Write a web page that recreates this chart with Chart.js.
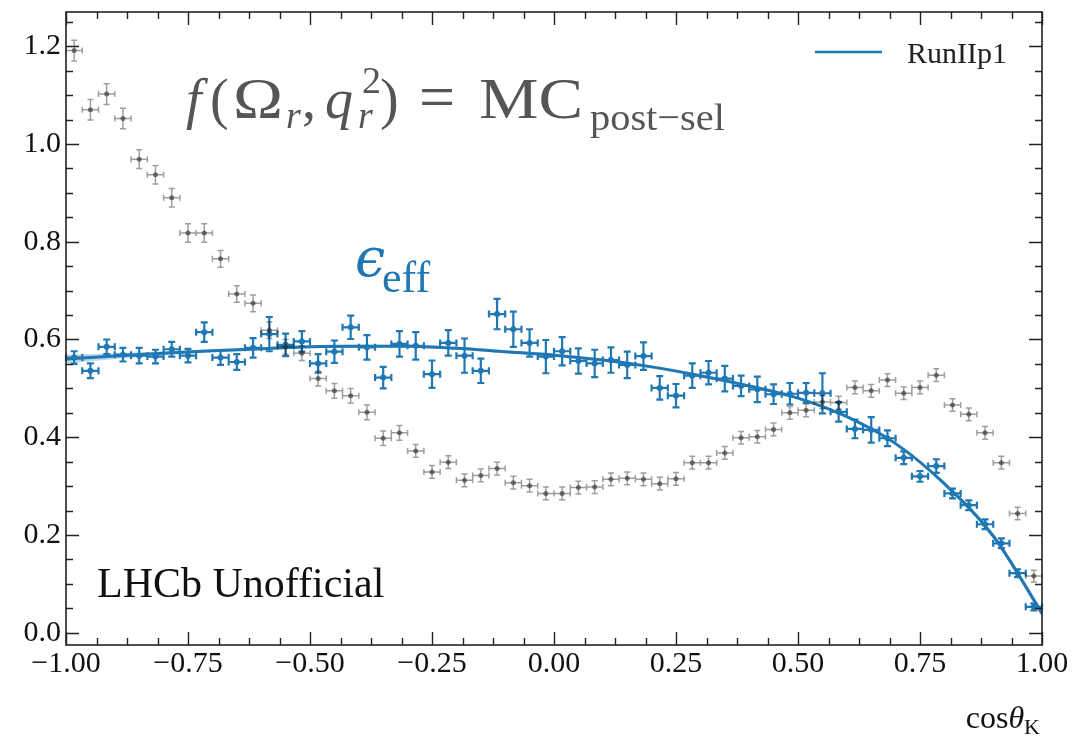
<!DOCTYPE html>
<html>
<head>
<meta charset="utf-8">
<script src="https://cdn.jsdelivr.net/npm/chart.js@4.4.0/dist/chart.umd.min.js"></script>
<style>
  html, body { margin: 0; padding: 0; background: #fff; }
  #wrap { width: 1072px; height: 737px; }
</style>
</head>
<body>
<div id="wrap"><canvas id="chart" width="1072" height="737"></canvas></div>
<script>
// cos(theta_K) projection, 60 equal bins on [-1, 1]
const nBins = 60;

// efficiency histogram (blue)
const effValues = [
  0.563, 0.536, 0.585, 0.569, 0.567, 0.565, 0.580, 0.567, 0.615, 0.563,
  0.554, 0.583, 0.611, 0.589, 0.596, 0.551, 0.575, 0.625, 0.584, 0.522,
  0.591, 0.587, 0.529, 0.593, 0.567, 0.536, 0.652, 0.621, 0.593, 0.565,
  0.576, 0.556, 0.551, 0.558, 0.548, 0.566, 0.501, 0.485, 0.526, 0.532,
  0.520, 0.505, 0.498, 0.488, 0.489, 0.491, 0.490, 0.452, 0.417, 0.415,
  0.398, 0.358, 0.320, 0.341, 0.285, 0.261, 0.222, 0.183, 0.122, 0.053
];
const effErrors = [
  0.013, 0.015, 0.015, 0.014, 0.016, 0.014, 0.015, 0.014, 0.020, 0.015,
  0.016, 0.020, 0.035, 0.023, 0.021, 0.019, 0.023, 0.024, 0.025, 0.022,
  0.026, 0.028, 0.028, 0.026, 0.035, 0.025, 0.031, 0.036, 0.028, 0.034,
  0.029, 0.026, 0.028, 0.026, 0.027, 0.028, 0.024, 0.024, 0.025, 0.024,
  0.026, 0.021, 0.026, 0.020, 0.022, 0.020, 0.041, 0.020, 0.019, 0.026,
  0.016, 0.013, 0.011, 0.014, 0.010, 0.010, 0.010, 0.010, 0.008, 0.007
];

// post-selection MC distribution (grey)
const mcValues = [
  1.191, 1.070, 1.102, 1.052, 0.969, 0.937, 0.890, 0.818, 0.818, 0.765,
  0.693, 0.674, 0.619, 0.585, 0.572, 0.520, 0.495, 0.485, 0.451, 0.398,
  0.409, 0.372, 0.329, 0.349, 0.312, 0.322, 0.336, 0.307, 0.301, 0.285,
  0.285, 0.297, 0.298, 0.314, 0.316, 0.314, 0.305, 0.315, 0.348, 0.348,
  0.368, 0.399, 0.401, 0.416, 0.450, 0.455, 0.472, 0.471, 0.502, 0.495,
  0.517, 0.490, 0.502, 0.527, 0.466, 0.447, 0.409, 0.348, 0.244, 0.116
];
const mcErrors = [
  0.021, 0.021, 0.021, 0.021, 0.019, 0.019, 0.019, 0.019, 0.019, 0.017,
  0.017, 0.017, 0.017, 0.015, 0.015, 0.015, 0.015, 0.015, 0.015, 0.015,
  0.015, 0.013, 0.013, 0.013, 0.013, 0.013, 0.013, 0.013, 0.013, 0.013,
  0.013, 0.013, 0.013, 0.013, 0.013, 0.013, 0.013, 0.013, 0.013, 0.013,
  0.013, 0.013, 0.013, 0.013, 0.013, 0.013, 0.013, 0.013, 0.013, 0.013,
  0.013, 0.013, 0.013, 0.013, 0.013, 0.013, 0.013, 0.013, 0.013, 0.012
];

// fitted efficiency curve and its uncertainty band
const fitX = [-1.0, -0.9, -0.8, -0.7, -0.6, -0.5, -0.4, -0.3, -0.2, -0.1, 0.0,
              0.1, 0.2, 0.3, 0.4, 0.5, 0.6, 0.7, 0.8, 0.9, 1.0];
const fitY = [0.560, 0.566, 0.572, 0.577, 0.581, 0.585, 0.586, 0.586, 0.582, 0.575, 0.568,
              0.558, 0.544, 0.526, 0.505, 0.480, 0.442, 0.387, 0.305, 0.198, 0.040];
const fitBand = [0.009, 0.006, 0.004, 0.003, 0.003, 0.003, 0.003, 0.003, 0.003, 0.003, 0.003,
                 0.003, 0.003, 0.003, 0.003, 0.003, 0.003, 0.003, 0.004, 0.005, 0.008];

const xTicks = [-1, -0.75, -0.5, -0.25, 0, 0.25, 0.5, 0.75, 1];
const yTicks = [0, 0.2, 0.4, 0.6, 0.8, 1.0, 1.2];
const legendLabel = 'RunIIp1';

const BLUE = '#1f77b4';
const SERIF = "'Liberation Serif', 'DejaVu Serif', serif";

const binWidth = 2 / nBins;
const centers = effValues.map((_, i) => -1 + (i + 0.5) * binWidth);
const effPoints = effValues.map((v, i) => ({ x: centers[i], y: v, err: effErrors[i] }));
const mcPoints = mcValues.map((v, i) => ({ x: centers[i], y: v, err: mcErrors[i] }));
const fitPoints = fitX.map((x, i) => ({ x: x, y: fitY[i] }));
const bandUp = fitX.map((x, i) => ({ x: x, y: fitY[i] + fitBand[i] }));
const bandLo = fitX.map((x, i) => ({ x: x, y: fitY[i] - fitBand[i] }));

function fmtTick(v, digits) {
  const s = Math.abs(v).toFixed(digits);
  return v < -1e-9 ? '\u2212' + s : s;
}

// crosses: x error = half bin width, y error from the data
const errorBars = {
  id: 'errorBars',
  beforeDatasetDraw(chart, args) {
    const ds = chart.data.datasets[args.index];
    if (!ds.errorBars) return;
    const { ctx, scales: { x, y } } = chart;
    const cap = ds.errorBars.cap;
    ctx.save();
    ctx.strokeStyle = ds.errorBars.color;
    ctx.lineWidth = ds.errorBars.width;
    ctx.beginPath();
    ds.data.forEach(p => {
      const x0 = x.getPixelForValue(p.x - binWidth / 2);
      const x1 = x.getPixelForValue(p.x + binWidth / 2);
      const xc = x.getPixelForValue(p.x);
      const yc = y.getPixelForValue(p.y);
      const y0 = y.getPixelForValue(p.y - p.err);
      const y1 = y.getPixelForValue(p.y + p.err);
      ctx.moveTo(x0, yc); ctx.lineTo(x1, yc);
      ctx.moveTo(xc, y0); ctx.lineTo(xc, y1);
      ctx.moveTo(x0, yc - cap); ctx.lineTo(x0, yc + cap);
      ctx.moveTo(x1, yc - cap); ctx.lineTo(x1, yc + cap);
      ctx.moveTo(xc - cap, y0); ctx.lineTo(xc + cap, y0);
      ctx.moveTo(xc - cap, y1); ctx.lineTo(xc + cap, y1);
    });
    ctx.stroke();
    ctx.restore();
  }
};

// box with inward ticks on all four sides
const frame = {
  id: 'frame',
  afterDraw(chart) {
    const { ctx, chartArea: a, scales: { x, y } } = chart;
    ctx.save();
    ctx.strokeStyle = '#222';
    ctx.lineWidth = 1.6;
    ctx.strokeRect(a.left, a.top, a.right - a.left, a.bottom - a.top);
    ctx.lineWidth = 1.4;
    ctx.beginPath();
    for (let k = 0; k <= 32; k++) {
      const px = Math.round(x.getPixelForValue(-1 + k * 0.0625)) + 0.5;
      const len = k % 4 === 0 ? 13 : 7;
      ctx.moveTo(px, a.bottom); ctx.lineTo(px, a.bottom - len);
      ctx.moveTo(px, a.top); ctx.lineTo(px, a.top + len);
    }
    for (let k = 0; k <= 25; k++) {
      const py = Math.round(y.getPixelForValue(k * 0.05)) + 0.5;
      const len = k % 4 === 0 ? 13 : 7;
      ctx.moveTo(a.left, py); ctx.lineTo(a.left + len, py);
      ctx.moveTo(a.right, py); ctx.lineTo(a.right - len, py);
    }
    ctx.stroke();
    ctx.restore();
  }
};

// text piece, optionally stretched to a given width
function put(ctx, text, x, y, size, color, italic, width) {
  ctx.font = (italic ? 'italic ' : '') + size + 'px ' + SERIF;
  ctx.fillStyle = color;
  if (!width) { ctx.fillText(text, x, y); return; }
  const w = ctx.measureText(text).width;
  ctx.save();
  ctx.translate(x, y);
  ctx.scale(width / w, 1);
  ctx.fillText(text, 0, 0);
  ctx.restore();
}

// labels, formula, legend
const annotations = {
  id: 'annotations',
  afterDraw(chart) {
    const ctx = chart.ctx;
    ctx.save();
    ctx.textBaseline = 'alphabetic';
    ctx.textAlign = 'left';

    // f(Omega_r, q_r^2) = MC_post-sel
    const g = '#555555', B = 118;
    put(ctx, 'f', 186, B, 56, g, true);
    put(ctx, '(', 210, B, 56, g);
    put(ctx, '\u03A9', 233, B, 56, g, false, 50);
    put(ctx, 'r', 286, B + 10, 38, g, true);
    put(ctx, ',', 302, B, 56, g);
    put(ctx, 'q', 325, B, 56, g, true);
    put(ctx, '2', 362, B - 25, 38, g);
    put(ctx, 'r', 358, B + 10, 38, g, true);
    put(ctx, ')', 380, B, 56, g);
    put(ctx, '=', 419, B, 64, g);
    put(ctx, 'MC', 479, B, 57, g, false, 104);
    put(ctx, 'post\u2212sel', 590, B + 12, 38, g, false, 135);

    // epsilon_eff
    ctx.font = "italic 54px 'DejaVu Serif', serif";
    ctx.fillStyle = BLUE;
    ctx.fillText('\u03F5', 355, 276);
    put(ctx, 'eff', 382, 292, 44, BLUE);

    put(ctx, 'LHCb Unofficial', 97, 597, 42, '#111');

    // legend
    ctx.strokeStyle = BLUE;
    ctx.lineWidth = 2.5;
    ctx.beginPath();
    ctx.moveTo(815, 52); ctx.lineTo(882, 52);
    ctx.stroke();
    put(ctx, legendLabel, 907, 63, 30, '#222');

    // x-axis title, right aligned
    const right = 1040, by = 728;
    ctx.font = '22px ' + SERIF;
    const wK = ctx.measureText('K').width;
    ctx.font = 'italic 32px ' + SERIF;
    const wT = ctx.measureText('\u03B8').width;
    ctx.font = '32px ' + SERIF;
    const wC = ctx.measureText('cos').width;
    const x0 = right - wK - wT - wC;
    put(ctx, 'cos', x0, by, 32, '#111');
    put(ctx, '\u03B8', x0 + wC, by, 32, '#111', true);
    put(ctx, 'K', x0 + wC + wT, by + 6, 22, '#111');
    ctx.restore();
  }
};

new Chart(document.getElementById('chart'), {
  type: 'scatter',
  data: {
    datasets: [
      {
        label: 'MC post-sel',
        data: mcPoints,
        order: 0,
        pointRadius: 2.5,
        pointBorderWidth: 0,
        pointBackgroundColor: 'rgba(40,40,40,0.6)',
        errorBars: { color: 'rgba(0,0,0,0.38)', width: 1.5, cap: 3 }
      },
      {
        label: 'efficiency',
        data: effPoints,
        order: 1,
        pointRadius: 3,
        pointBorderWidth: 0,
        pointBackgroundColor: BLUE,
        errorBars: { color: BLUE, width: 2.2, cap: 3.5 }
      },
      {
        label: legendLabel,
        type: 'line',
        data: fitPoints,
        order: 2,
        borderColor: BLUE,
        borderWidth: 3,
        pointRadius: 0,
        cubicInterpolationMode: 'monotone',
        fill: false
      },
      {
        label: 'band up',
        type: 'line',
        data: bandUp,
        order: 3,
        borderWidth: 0,
        pointRadius: 0,
        cubicInterpolationMode: 'monotone',
        backgroundColor: 'rgba(31,119,180,0.3)',
        fill: '+1'
      },
      {
        label: 'band low',
        type: 'line',
        data: bandLo,
        order: 4,
        borderWidth: 0,
        pointRadius: 0,
        cubicInterpolationMode: 'monotone',
        fill: false
      }
    ]
  },
  options: {
    responsive: false,
    animation: false,
    layout: { padding: { top: 12, right: 30, left: 0, bottom: 0 } },
    plugins: { legend: { display: false }, tooltip: { enabled: false } },
    scales: {
      x: {
        type: 'linear',
        min: -1,
        max: 1,
        afterBuildTicks: s => { s.ticks = xTicks.map(v => ({ value: v })); },
        afterFit: s => { s.height = 92; s.paddingLeft = 0; s.paddingRight = 0; },
        grid: { display: false, drawTicks: false },
        border: { display: false },
        ticks: {
          font: { family: SERIF, size: 30 },
          color: '#111',
          padding: 1,
          maxRotation: 0,
          autoSkip: false,
          callback: v => fmtTick(v, 2)
        }
      },
      y: {
        min: -0.025,
        max: 1.27,
        afterBuildTicks: s => { s.ticks = yTicks.map(v => ({ value: v })); },
        afterFit: s => { s.width = 66; s.paddingTop = 0; s.paddingBottom = 0; },
        grid: { display: false, drawTicks: false },
        border: { display: false },
        ticks: {
          font: { family: SERIF, size: 30 },
          color: '#111',
          padding: 5,
          autoSkip: false,
          callback: v => fmtTick(v, 1)
        }
      }
    }
  },
  plugins: [errorBars, frame, annotations]
});
</script>
</body>
</html>
